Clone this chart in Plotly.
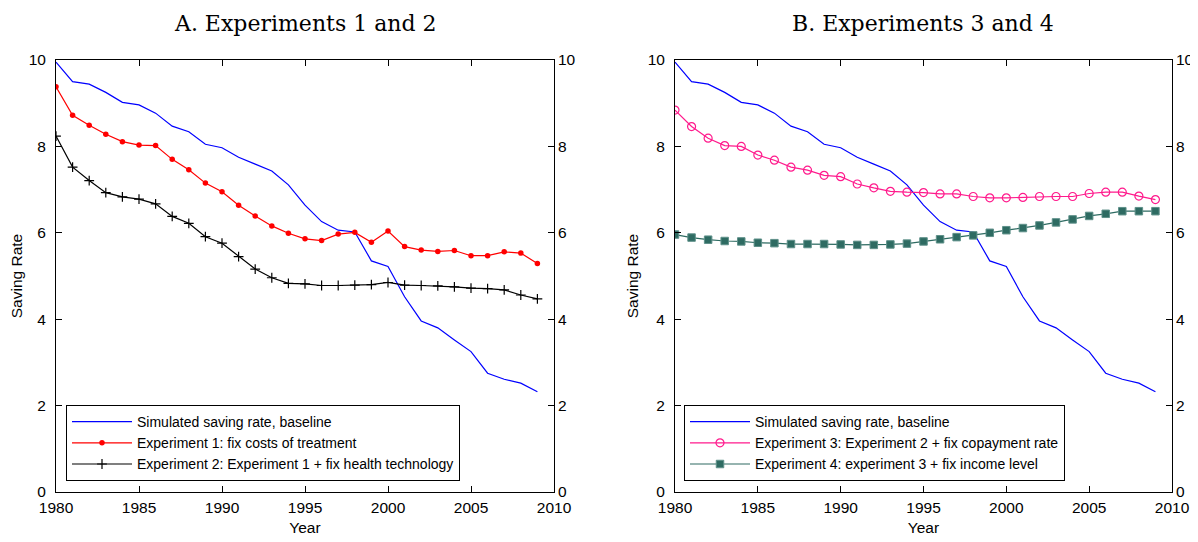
import plotly.graph_objects as go

years = list(range(1980, 2010))

baseline = [9.95, 9.50, 9.44, 9.25, 9.02, 8.96, 8.77, 8.47, 8.34, 8.05,
            7.97, 7.75, 7.59, 7.43, 7.11, 6.64, 6.26, 6.06, 6.02, 5.35,
            5.22, 4.52, 3.96, 3.80, 3.52, 3.25, 2.75, 2.61, 2.52, 2.32]
exp1 = [9.38, 8.72, 8.49, 8.28, 8.11, 8.03, 8.02, 7.70, 7.46, 7.15,
        6.95, 6.64, 6.39, 6.16, 5.99, 5.86, 5.82, 5.97, 6.01, 5.78,
        6.04, 5.68, 5.60, 5.57, 5.59, 5.47, 5.47, 5.56, 5.53, 5.29]
exp2 = [8.24, 7.52, 7.21, 6.93, 6.83, 6.78, 6.67, 6.38, 6.22, 5.91,
        5.76, 5.45, 5.16, 4.96, 4.83, 4.82, 4.78, 4.78, 4.79, 4.80,
        4.85, 4.79, 4.78, 4.77, 4.75, 4.72, 4.71, 4.68, 4.56, 4.47]
exp3 = [8.84, 8.46, 8.19, 8.02, 8.00, 7.80, 7.68, 7.52, 7.45, 7.33,
        7.30, 7.13, 7.04, 6.96, 6.94, 6.93, 6.90, 6.90, 6.84, 6.81,
        6.81, 6.82, 6.84, 6.84, 6.84, 6.91, 6.94, 6.94, 6.85, 6.77]
exp4 = [5.96, 5.89, 5.84, 5.81, 5.80, 5.77, 5.76, 5.74, 5.74, 5.74,
        5.73, 5.72, 5.72, 5.73, 5.75, 5.80, 5.85, 5.90, 5.94, 6.00,
        6.06, 6.11, 6.17, 6.24, 6.31, 6.39, 6.44, 6.50, 6.50, 6.50]

names_a = ["Simulated saving rate, baseline",
           "Experiment 1: fix costs of treatment",
           "Experiment 2: Experiment 1 + fix health technology"]
names_b = ["Simulated saving rate, baseline",
           "Experiment 3: Experiment 2 + fix copayment rate",
           "Experiment 4: experiment 3 + fix income level"]
titles = ["A. Experiments 1 and 2", "B. Experiments 3 and 4"]

SANS = "Liberation Sans, Arial, sans-serif"
SERIF = "DejaVu Serif, Liberation Serif, serif"
LW = 1.2

fig = go.Figure()

# Panel A
fig.add_trace(go.Scatter(x=years, y=baseline, name=names_a[0], mode="lines",
                         line=dict(color="#0000ff", width=LW),
                         xaxis="x", yaxis="y", legend="legend"))
fig.add_trace(go.Scatter(x=years, y=exp1, name=names_a[1], mode="lines+markers",
                         line=dict(color="#ff0000", width=LW),
                         marker=dict(symbol="circle", size=5.5, color="#ff0000"),
                         xaxis="x", yaxis="y", legend="legend"))
fig.add_trace(go.Scatter(x=years, y=exp2, name=names_a[2], mode="lines+markers",
                         line=dict(color="#000000", width=LW),
                         marker=dict(symbol="cross-thin-open", size=7,
                                     line=dict(color="#000000", width=1.2)),
                         xaxis="x", yaxis="y", legend="legend"))

# Panel B
fig.add_trace(go.Scatter(x=years, y=baseline, name=names_b[0], mode="lines",
                         line=dict(color="#0000ff", width=LW),
                         xaxis="x2", yaxis="y2", legend="legend2"))
fig.add_trace(go.Scatter(x=years, y=exp3, name=names_b[1], mode="lines+markers",
                         line=dict(color="#ff1a8c", width=LW),
                         marker=dict(symbol="circle-open", size=8,
                                     line=dict(color="#ff1a8c", width=1.2)),
                         xaxis="x2", yaxis="y2", legend="legend2"))
fig.add_trace(go.Scatter(x=years, y=exp4, name=names_b[2], mode="lines+markers",
                         line=dict(color="#2e6b62", width=LW),
                         marker=dict(symbol="square", size=7.5, color="#2e6b62",
                                     line=dict(color="#5f918a", width=1)),
                         xaxis="x2", yaxis="y2", legend="legend2"))

# page body has an 8px margin, so the figure is drawn 8px in from the window edges
W, H = 1190, 534
L, R, T, B = 48, 26, 52, 50
pw = W - L - R
ph = H - T - B
dA = [0, (546 - L) / pw]
dB = [(667 - L) / pw, 1]

TF = dict(family=SANS, size=15.5, color="black")

xcommon = dict(range=[1980, 2010], dtick=5, tick0=1980, ticks="inside", ticklen=6,
               showline=True, linecolor="black", linewidth=1, mirror="ticks",
               showgrid=False, zeroline=False, tickcolor="black", automargin=False,
               tickfont=TF, ticklabelstandoff=1,
               title=dict(text="Year", font=TF, standoff=7))
ycommon = dict(range=[0, 10], dtick=2, ticks="inside", ticklen=6,
               showline=True, linecolor="black", linewidth=1, mirror="ticks",
               showgrid=False, zeroline=False, tickcolor="black", automargin=False,
               tickfont=TF, ticklabelstandoff=6,
               title=dict(text="Saving Rate", font=TF, standoff=5))
yright = dict(range=[0, 10], dtick=2, ticks="", showline=False, showgrid=False,
              zeroline=False, side="right", automargin=False,
              tickfont=TF, ticklabelstandoff=3)

legcommon = dict(bgcolor="white", bordercolor="black", borderwidth=1,
                 font=dict(family=SANS, size=14, color="black"),
                 yanchor="top", xanchor="left", tracegroupgap=0,
                 itemwidth=60)

fig.update_layout(
    width=W, height=H,
    margin=dict(l=L, r=R, t=T, b=B),
    paper_bgcolor="white", plot_bgcolor="white",
    xaxis=dict(domain=dA, anchor="y", **xcommon),
    yaxis=dict(domain=[0, 1], anchor="x", **ycommon),
    yaxis3=dict(overlaying="y", anchor="x", **yright),
    xaxis2=dict(domain=dB, anchor="y2", **xcommon),
    yaxis2=dict(domain=[0, 1], anchor="x2", **ycommon),
    yaxis4=dict(overlaying="y2", anchor="x2", **yright),
    legend=dict(x=(58 - L) / pw, y=(484 - 397) / ph, **legcommon),
    legend2=dict(x=(676 - L) / pw, y=(484 - 397) / ph, **legcommon),
    annotations=[
        dict(text=titles[0], x=(dA[0] + dA[1]) / 2, y=1, xref="paper", yref="paper",
             xanchor="center", yanchor="middle", yshift=37, showarrow=False,
             font=dict(family=SERIF, size=22, color="black")),
        dict(text=titles[1], x=(dB[0] + dB[1]) / 2, y=1, xref="paper", yref="paper",
             xanchor="center", yanchor="middle", yshift=37, showarrow=False,
             font=dict(family=SERIF, size=22, color="black")),
    ],
    showlegend=True,
)

# invisible anchors so the right-side axes render their tick labels
fig.add_trace(go.Scatter(x=[1980], y=[0], xaxis="x", yaxis="y3", showlegend=False,
                         mode="markers", marker=dict(opacity=0), hoverinfo="skip"))
fig.add_trace(go.Scatter(x=[1980], y=[0], xaxis="x2", yaxis="y4", showlegend=False,
                         mode="markers", marker=dict(opacity=0), hoverinfo="skip"))

fig.write_html("out.html")
